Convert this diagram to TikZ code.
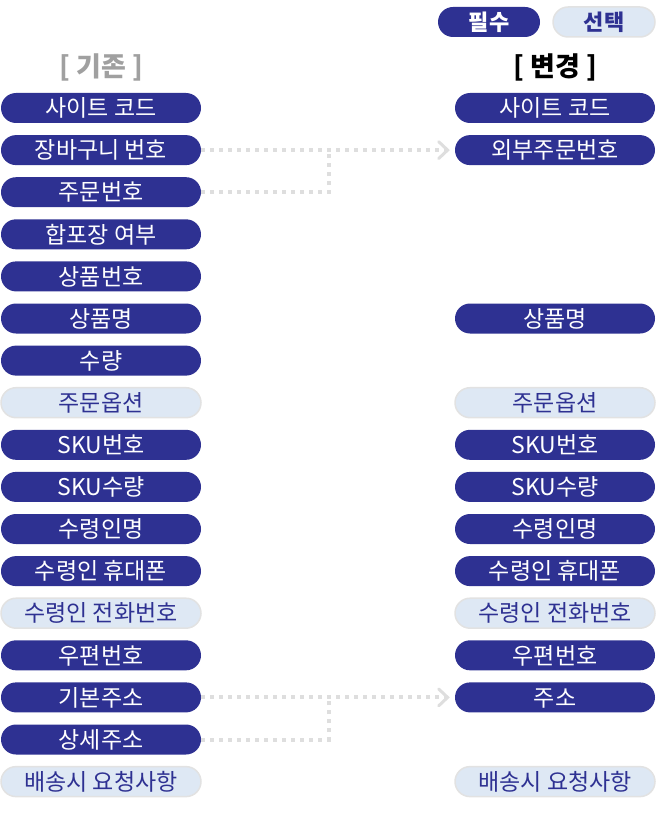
\documentclass[tikz,border=0pt]{standalone}
\usepackage{fontspec}
\newfontfamily\kr{Noto Sans CJK KR}
\usetikzlibrary{arrows.meta}
\definecolor{pillBlue}{RGB}{46, 49, 146}
\definecolor{pillLight}{RGB}{222, 232, 244}
\definecolor{pillEdge}{RGB}{226, 226, 226}
\definecolor{linkGray}{RGB}{222, 222, 222}
\definecolor{headGray}{RGB}{160, 160, 160}

\begin{document}
\begin{tikzpicture}[x=1pt, y=-1pt,
    pill/.style={rounded corners=15pt, minimum width=200pt, minimum height=30pt, inner sep=0pt,
      text height=18.5pt, text depth=1pt, font=\kr\fontsize{23}{23}\selectfont},
    req/.style={pill, fill=pillBlue, text=white},
    opt/.style={pill, fill=pillLight, draw=pillEdge, line width=1.5pt, text=pillBlue},
    head/.style={font=\kr\bfseries\fontsize{27}{27}\selectfont},
    link/.style={linkGray, line width=4pt, dash pattern=on 4pt off 5pt}]
    \useasboundingbox (0,0) rectangle (657,813);
    % legend
    \node[req, minimum width=102pt, font=\kr\bfseries\fontsize{22}{22}\selectfont] (must) at (489,22) {필수};
    \node[opt, minimum width=102pt, font=\kr\bfseries\fontsize{22}{22}\selectfont] (choice) at (604,22) {선택};
    % headers
    \node[head, text=headGray] (oldhead) at (101,67) {[ 기존 ]};
    \node[head, text=black] (newhead) at (555,67) {[ 변경 ]};
    % left column
    \foreach \i/\s/\t in {0/req/사이트 코드, 1/req/장바구니 번호, 2/req/주문번호, 3/req/합포장 여부,
        4/req/상품번호, 5/req/상품명, 6/req/수량, 7/opt/주문옵션, 8/req/SKU번호, 9/req/SKU수량,
        10/req/수령인명, 11/req/수령인 휴대폰, 12/opt/수령인 전화번호, 13/req/우편번호,
        14/req/기본주소, 15/req/상세주소, 16/opt/배송시 요청사항}
      \node[\s] (l\i) at (101,{108+42.1*\i}) {\t};
    % right column
    \foreach \i/\s/\t in {0/req/사이트 코드, 1/req/외부주문번호, 5/req/상품명, 7/opt/주문옵션,
        8/req/SKU번호, 9/req/SKU수량, 10/req/수령인명, 11/req/수령인 휴대폰,
        12/opt/수령인 전화번호, 13/req/우편번호, 14/req/주소, 16/opt/배송시 요청사항}
      \node[\s] (r\i) at (555,{108+42.1*\i}) {\t};
    % merged fields
    \coordinate (m1) at (329,150);
    \coordinate (m2) at (329,698);
    \draw[link, -{Straight Barb[length=9pt, width=17pt, line width=3pt, line cap=round]}, shorten >=5pt] (l1.east) -- (r1.west);
    \draw[link] (l2.east) -| (m1);
    \draw[link, -{Straight Barb[length=9pt, width=17pt, line width=3pt, line cap=round]}, shorten >=5pt] (l14.east) -- (r14.west);
    \draw[link] (l15.east) -| (m2);
\end{tikzpicture}
\end{document}
